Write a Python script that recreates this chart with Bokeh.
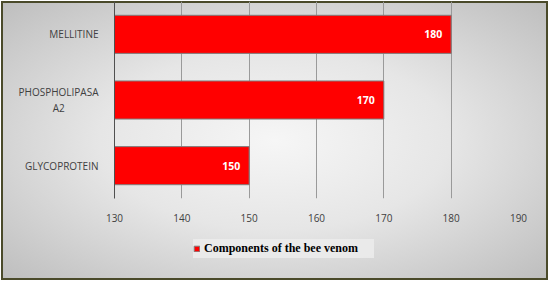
from bokeh.plotting import figure
from bokeh.layouts import column
from bokeh.models import FactorRange, Range1d, Legend, LegendItem, ColumnDataSource, FixedTicker
from bokeh.core.properties import value
from bokeh.embed import file_html
from bokeh.resources import INLINE

categories = ["GLYCOPROTEIN", "PHOSPHOLIPASA\nA2" + "\u00a0" * 13, "MELLITINE"]
values = [150, 170, 180]
x_ticks = [130, 140, 150, 160, 170, 180, 190]
series_name = "Components of the bee venom"

src = ColumnDataSource(dict(cat=categories, val=values, lbl=[str(v) for v in values]))

p = figure(width=549, height=230, output_backend="svg", toolbar_location=None,
           y_range=FactorRange(*categories), x_range=Range1d(130, 190),
           min_border_left=114, min_border_right=31, min_border_top=1, min_border_bottom=32)
p.background_fill_color = None
p.border_fill_color = None
p.outline_line_color = None

bar_style = dict(fill_color="#ff0000", line_color="#7f7f7f", line_width=1)
bars = p.hbar(y="cat", right="val", left=130, height=0.58, source=src, **bar_style)

p.text(x="val", y="cat", text="lbl", source=src, x_offset=-9,
       text_align="right", text_baseline="middle", text_color="white",
       text_font=value("Open Sans"), text_font_style="bold", text_font_size="10.5px")

p.xaxis.ticker = FixedTicker(ticks=x_ticks)
p.xaxis.axis_line_color = None
p.xaxis.major_tick_line_color = None
p.xaxis.minor_tick_line_color = None
p.xaxis.major_label_standoff = 9
p.xaxis.major_label_text_font = "Open Sans"
p.xaxis.major_label_text_font_size = "10px"
p.xaxis.major_label_text_color = "#404040"

p.yaxis.axis_line_color = "#505050"
p.yaxis.axis_line_width = 1
p.yaxis.major_tick_line_color = None
p.yaxis.minor_tick_line_color = None
p.yaxis.major_label_standoff = 10
p.yaxis.major_label_text_font = "Open Sans"
p.yaxis.major_label_text_font_size = "10px"
p.yaxis.major_label_text_color = "#404040"

p.xgrid.ticker = FixedTicker(ticks=x_ticks)
p.xgrid.grid_line_color = "#9a9a9a"
p.ygrid.grid_line_color = None

# legend strip below the chart
p2 = figure(width=549, height=51, output_backend="svg", toolbar_location=None,
            y_range=FactorRange(*categories), x_range=Range1d(130, 190),
            min_border=0, min_border_left=0, min_border_right=0,
            min_border_top=0, min_border_bottom=0)
p2.axis.visible = False
p2.grid.visible = False
p2.background_fill_color = None
p2.border_fill_color = None
p2.outline_line_color = None
lbars = p2.hbar(y="cat", right="val", left=130, height=0.58, source=src, **bar_style)
lbars.visible = False

legend = Legend(items=[LegendItem(label=series_name, renderers=[lbars])],
                location=(79, 23), orientation="horizontal",
                padding=5, spacing=0, margin=0,
                glyph_width=7, glyph_height=7, label_standoff=4,
                label_width=170, label_height=19,
                label_text_font="Liberation Serif", label_text_font_style="bold",
                label_text_font_size="12px", label_text_color="#000000",
                background_fill_color="#ececec", background_fill_alpha=0.85,
                border_line_color=None)
p2.add_layout(legend, "center")

layout = column(p, p2, spacing=0)
layout.styles = {
    "background": "radial-gradient(ellipse farthest-corner at 50% 50%, #f6f6f6 0%, #e6e6e6 45%, #bdbdbd 100%)",
    "box-shadow": "inset 0 0 0 1px #ffffff, inset 0 0 0 3px #4a4a2a",
}

open("out.html", "w").write(file_html(layout, INLINE))
